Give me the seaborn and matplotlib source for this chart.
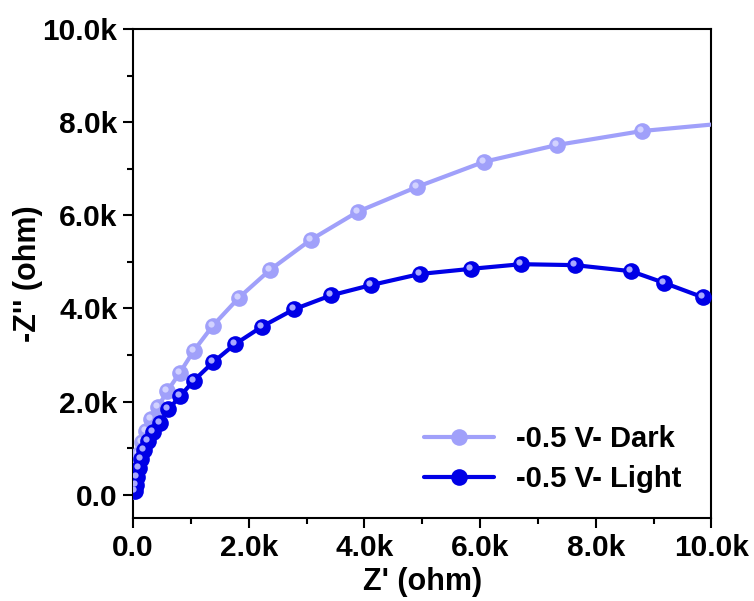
import numpy as np
import pandas as pd
import seaborn as sns
import matplotlib
matplotlib.use("Agg")
import matplotlib.pyplot as plt
from matplotlib import transforms
from matplotlib.lines import Line2D

# Data (Z' and -Z'' in ohm)
dark_zre = [5, 17, 35, 70, 100, 160, 220, 310, 430, 590, 810, 1050, 1380, 1830,
            2370, 3080, 3890, 4910, 6070, 7330, 8800, 10450]
dark_zim = [70, 220, 440, 650, 870, 1130, 1360, 1620, 1880, 2220, 2620, 3090, 3630, 4230,
            4830, 5480, 6080, 6610, 7150, 7510, 7810, 8000]

light_zre = [30, 50, 70, 100, 140, 190, 260, 350, 470, 610, 810, 1050, 1380, 1760,
             2230, 2780, 3420, 4110, 4960, 5840, 6710, 7640, 8610, 9180, 9850]
light_zim = [70, 200, 380, 570, 760, 950, 1150, 1340, 1550, 1830, 2110, 2450, 2840, 3230,
             3610, 3980, 4280, 4500, 4740, 4850, 4950, 4930, 4800, 4550, 4240]

labels = ["-0.5 V- Dark", "-0.5 V- Light"]
x_ticks = [0, 2000, 4000, 6000, 8000, 10000]
tick_labels = ["0.0", "2.0k", "4.0k", "6.0k", "8.0k", "10.0k"]

dark_col = "#a0a0fa"
light_col = "#0000e6"
dark_hl = "#d2d2ff"
light_hl = "#a8a8ff"

sns.set_style("white")
plt.rcParams["font.family"] = ["Liberation Sans", "DejaVu Sans"]
plt.rcParams["font.weight"] = "bold"
plt.rcParams["text.color"] = "black"
plt.rcParams["axes.labelcolor"] = "black"
plt.rcParams["xtick.color"] = "black"
plt.rcParams["ytick.color"] = "black"

fig = plt.figure(figsize=(7.54, 6.01), dpi=100)
ax = fig.add_axes([0.1764, 0.1381, 0.7672, 0.8136])

df_dark = pd.DataFrame({"x": dark_zre, "y": dark_zim})
df_light = pd.DataFrame({"x": light_zre, "y": light_zim})

ms = 12
sns.lineplot(data=df_dark, x="x", y="y", sort=False, ax=ax, color=dark_col,
             linewidth=3, marker="o", markersize=ms, markeredgewidth=0, zorder=3)
sns.lineplot(data=df_light, x="x", y="y", sort=False, ax=ax, color=light_col,
             linewidth=3, marker="o", markersize=ms, markeredgewidth=0, zorder=4)

# 3D-like highlights on the spheres
hl_tr = transforms.offset_copy(ax.transData, fig=fig, x=-2.0, y=2.0, units="dots")
ax.plot(dark_zre, dark_zim, linestyle="none", marker="o", markersize=4.5,
        color=dark_hl, markeredgewidth=0, transform=hl_tr, zorder=3.5)
ax.plot(light_zre, light_zim, linestyle="none", marker="o", markersize=4.5,
        color=light_hl, markeredgewidth=0, transform=hl_tr, zorder=4.5)

ax.set_xlim(0, 10000)
ax.set_ylim(-500, 10000)
ax.set_xticks(x_ticks)
ax.set_xticklabels(tick_labels)
ax.set_yticks(x_ticks)
ax.set_yticklabels(tick_labels)
ax.set_xticks(np.arange(1000, 10000, 2000), minor=True)
ax.set_yticks(np.arange(1000, 10000, 2000), minor=True)

ax.tick_params(axis="both", which="major", direction="out", length=7.2, width=1.5,
               labelsize=21.5, pad=4, bottom=True, left=True, colors="black")
ax.tick_params(axis="both", which="minor", direction="out", length=4, width=1.5,
               bottom=True, left=True, colors="black")
for lab in ax.get_xticklabels() + ax.get_yticklabels():
    lab.set_fontweight("bold")

for s in ax.spines.values():
    s.set_visible(True)
    s.set_color("black")
    s.set_linewidth(1.5)

ax.set_xlabel("Z' (ohm)", fontsize=22, fontweight="bold", labelpad=4, color="black")
ax.set_ylabel("-Z'' (ohm)", fontsize=22, fontweight="bold", labelpad=0, color="black")

handles = [
    Line2D([], [], color=dark_col, linewidth=3, marker="o", markersize=ms, markeredgewidth=0),
    Line2D([], [], color=light_col, linewidth=3, marker="o", markersize=ms, markeredgewidth=0),
]
leg = ax.legend(handles, labels, loc="upper left", bbox_to_anchor=(0.503, 0.19),
                frameon=False, handlelength=2.4, handletextpad=0.75,
                labelspacing=0.4, borderpad=0, borderaxespad=0,
                prop={"weight": "bold", "size": 21})
for t in leg.get_texts():
    t.set_color("black")

fig.savefig("out.png", dpi=100)
